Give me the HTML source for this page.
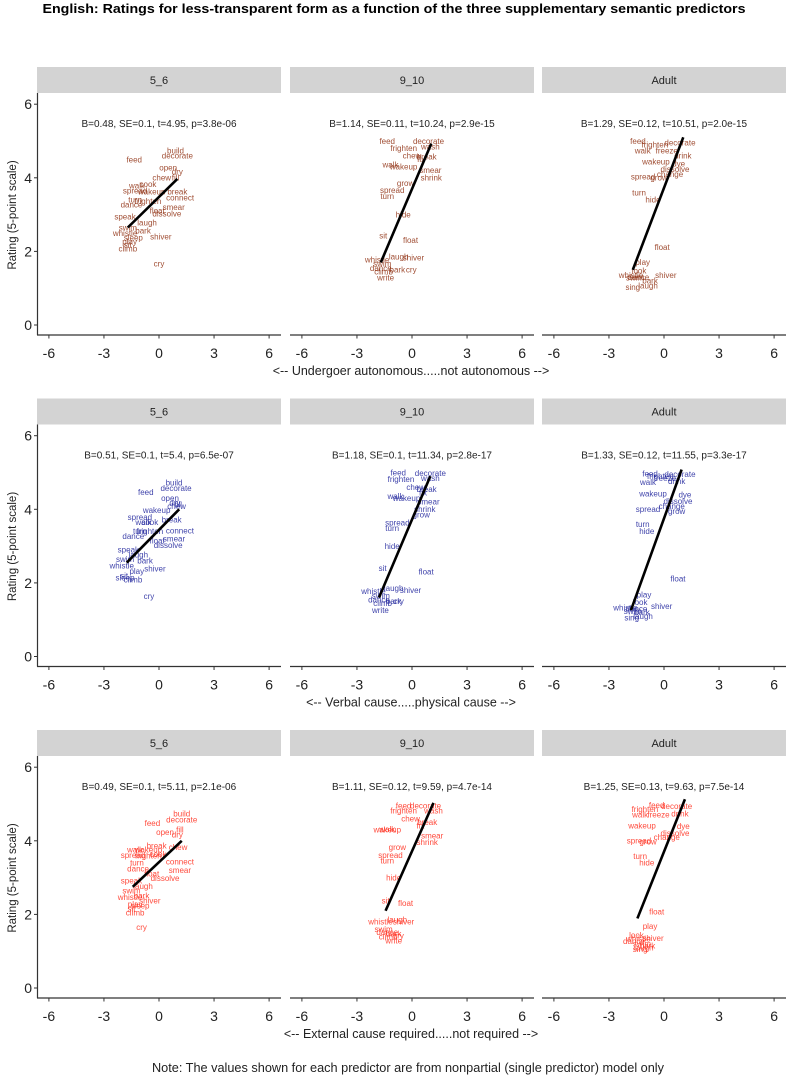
<!DOCTYPE html>
<html><head><meta charset="utf-8">
<style>
html,body{margin:0;padding:0;background:#fff;}
svg{display:block;font-family:"Liberation Sans",sans-serif;}
</style></head>
<body>
<svg id="chart" width="787" height="1078" viewBox="0 0 787 1078" xmlns="http://www.w3.org/2000/svg">
<text x="394" y="13" text-anchor="middle" font-size="13" font-weight="bold" fill="#000" textLength="703" lengthAdjust="spacingAndGlyphs">English: Ratings for less-transparent form as a function of the three supplementary semantic predictors</text>
<text x="408" y="1072" text-anchor="middle" font-size="12.5" fill="#222" textLength="512" lengthAdjust="spacingAndGlyphs">Note: The values shown for each predictor are from nonpartial (single predictor) model only</text>
</svg>
<script>
// ---- data ----
const facets = ["5_6","9_10","Adult"];
const predictors = ["<-- Undergoer autonomous.....not autonomous -->","<-- Verbal cause.....physical cause -->","<-- External cause required.....not required -->"];
const xTicks = [-6,-3,0,3,6];
const yTicks = [0,2,4,6];
const rowColors = ["#8f2f10","#1a1e9a","#ff2a1a"];
const stats = [
 ["B=0.48, SE=0.1, t=4.95, p=3.8e-06","B=1.14, SE=0.11, t=10.24, p=2.9e-15","B=1.29, SE=0.12, t=10.51, p=2.0e-15"],
 ["B=0.51, SE=0.1, t=5.4, p=6.5e-07","B=1.18, SE=0.1, t=11.34, p=2.8e-17","B=1.33, SE=0.12, t=11.55, p=3.3e-17"],
 ["B=0.49, SE=0.1, t=5.11, p=2.1e-06","B=1.11, SE=0.12, t=9.59, p=4.7e-14","B=1.25, SE=0.13, t=9.63, p=7.5e-14"]
];
const w56 = ["build","decorate","feed","open","dry","chew","fill","cook","walk","spread","wakeup","break","connect","turn","frighten","dance","smear","float","dissolve","speak","laugh","swim","bark","whistle","shiver","sleep","play","sit","climb","cry"];
const w910 = ["feed","decorate","frighten","wash","chew","break","fix","walk","wakeup","smear","shrink","grow","spread","turn","hide","sit","float","laugh","shiver","whistle","swim","dance","bark","cry","climb","write"];
const wAdult = ["feed","frighten","decorate","walk","freeze","drink","wakeup","dye","dissolve","change","spread","grow","turn","hide","float","play","look","shiver","swim","dance","bark","laugh","sing","whistle"];

const r1c1X = [0.9,1.0,-1.35,0.5,1.0,0.15,0.9,-0.6,-1.2,-1.3,-0.4,1.0,1.15,-1.3,-0.6,-1.5,0.8,-0.1,0.43,-1.85,-0.65,-1.7,-0.87,-1.85,0.1,-1.4,-1.6,-1.7,-1.7,0.0];
const r1c1Y = [4.73,4.6,4.49,4.27,4.17,4.0,4.0,3.83,3.78,3.65,3.62,3.62,3.46,3.4,3.37,3.27,3.2,3.1,3.02,2.94,2.78,2.64,2.56,2.5,2.4,2.37,2.26,2.18,2.07,1.66];
const r1c2X = [-1.35,0.9,-0.45,1.0,0,0.8,0.5,-1.17,-0.46,1.0,1.05,-0.35,-1.08,-1.35,-0.48,-1.57,-0.08,-0.73,0.08,-1.9,-1.62,-1.7,-0.8,-0.04,-1.55,-1.44];
const r1c2Y = [4.99,4.99,4.8,4.84,4.6,4.57,4.5,4.35,4.3,4.2,4.0,3.86,3.66,3.5,3.0,2.42,2.31,1.86,1.83,1.77,1.66,1.55,1.5,1.5,1.45,1.28];
const r1c3X = [-1.42,-0.5,0.87,-1.16,0.15,1.03,-0.44,0.8,0.6,0.33,-1.14,-0.27,-1.36,-0.6,-0.1,-1.16,-1.36,0.1,-1.58,-1.4,-0.76,-0.87,-1.7,-1.8];
const r1c3Y = [4.99,4.9,4.96,4.73,4.74,4.6,4.44,4.38,4.24,4.1,4.03,4.0,3.6,3.4,2.12,1.7,1.47,1.36,1.28,1.3,1.2,1.07,1.03,1.35];

const r2c1X = [0.82,0.93,-0.72,0.6,0.87,0.96,1.05,-0.5,-0.85,-1.04,-0.13,0.69,1.14,-1.04,-0.5,-1.4,0.82,-0.1,0.5,-1.67,-1.13,-1.85,-0.76,-2.03,-0.22,-1.85,-1.21,-1.9,-1.42,-0.55];
const r2c1Y = [4.72,4.58,4.47,4.3,4.18,4.08,4.13,3.65,3.65,3.78,3.98,3.72,3.42,3.4,3.4,3.27,3.2,3.15,3.02,2.9,2.77,2.65,2.6,2.47,2.39,2.14,2.32,2.2,2.09,1.64];
const r2c2X = [-0.75,1.0,-0.6,1.0,0.2,0.8,0.6,-0.9,-0.3,0.9,0.7,0.5,-0.8,-1.08,-1.08,-1.6,0.77,-1.0,-0.08,-2.1,-1.7,-1.8,-1.0,-0.73,-1.6,-1.72];
const r2c2Y = [5.0,4.98,4.82,4.85,4.6,4.55,4.45,4.35,4.3,4.2,4.0,3.85,3.64,3.48,3.0,2.4,2.3,1.85,1.8,1.78,1.65,1.55,1.5,1.5,1.45,1.26];
const r2c3X = [-0.76,-0.2,0.87,-0.87,0.05,0.69,-0.6,1.14,0.76,0.42,-0.87,0.69,-1.16,-0.94,0.76,-1.09,-1.3,-0.13,-1.7,-1.5,-1.2,-1.14,-1.76,-2.1];
const r2c3Y = [4.97,4.9,4.95,4.73,4.85,4.76,4.43,4.4,4.22,4.08,4.0,3.95,3.59,3.4,2.12,1.68,1.48,1.37,1.23,1.3,1.2,1.1,1.05,1.33];

const r3c1X = [1.24,1.24,-0.36,0.33,1.0,1.04,1.14,-0.05,-1.3,-1.42,-0.58,-0.13,1.14,-1.2,-0.58,-1.14,1.14,-0.4,0.33,-1.5,-0.87,-1.5,-0.95,-1.58,-0.5,-1.04,-1.3,-1.5,-1.3,-0.95];
const r3c1Y = [4.73,4.57,4.48,4.24,4.17,3.83,4.3,3.64,3.76,3.61,3.76,3.87,3.43,3.41,3.6,3.24,3.2,3.1,2.99,2.92,2.77,2.64,2.51,2.47,2.37,2.24,2.28,2.15,2.04,1.65];
const r3c2X = [-0.46,0.74,-0.46,1.17,-0.08,0.83,0.46,-1.35,-1.35,1.1,0.83,-0.8,-1.17,-1.35,-1.0,-1.44,-0.35,-0.8,-0.46,-1.72,-1.55,-1.35,-1.0,-0.73,-1.3,-1.0];
const r3c2Y = [4.95,4.95,4.82,4.82,4.6,4.5,4.41,4.32,4.3,4.14,3.96,3.83,3.61,3.46,3.0,2.37,2.31,1.85,1.8,1.8,1.6,1.52,1.47,1.42,1.39,1.29];
const r3c3X = [-0.4,-1.04,0.69,-1.3,-0.3,0.87,-1.2,1.05,0.6,0.15,-1.36,-0.87,-1.3,-0.94,-0.4,-0.76,-1.5,-0.6,-1.2,-1.64,-0.9,-1.1,-1.3,-1.4];
const r3c3Y = [4.97,4.86,4.94,4.71,4.71,4.73,4.41,4.39,4.21,4.1,4.0,3.97,3.58,3.4,2.08,1.68,1.44,1.35,1.2,1.27,1.15,1.1,1.05,1.34];

// fitted line endpoints [x0,x1] and [y0,y1]
const fitX = [[-1.7,1.0],[-1.7,1.05],[-1.7,1.05],[-1.76,1.1],[-1.8,1.0],[-1.8,0.96],[-1.43,1.24],[-1.44,1.17],[-1.45,1.14]];
const fitY = [[2.65,3.97],[1.7,4.93],[1.5,5.1],[2.55,4.0],[1.6,4.9],[1.26,5.08],[2.75,4.0],[2.1,5.03],[1.89,5.13]];

const panelWords = [w56,w910,wAdult];
const panelX = [r1c1X,r1c2X,r1c3X,r2c1X,r2c2X,r2c3X,r3c1X,r3c2X,r3c3X];
const panelY = [r1c1Y,r1c2Y,r1c3Y,r2c1Y,r2c2Y,r2c3Y,r3c1Y,r3c2Y,r3c3Y];

// ---- layout ----
const svg = document.getElementById('chart');
const NS = "http://www.w3.org/2000/svg";
const panelLeft = [37,290,542], panelW = 244;
const rowTop = [67,398.5,730];
function mk(tag, attrs){ const e=document.createElementNS(NS,tag); for(const k in attrs) e.setAttribute(k,attrs[k]); return e; }
function xScale(c,v){ return panelLeft[c] + 122 + v*18.35; }
function yScale(r,v){ return rowTop[r] + 258 - v*36.8; }

for(let r=0;r<3;r++){
  const top=rowTop[r];
  const axisY = top+268;
  const yl = mk('line',{x1:37.5,y1:top+26,x2:37.5,y2:axisY,stroke:'#333','stroke-width':1.2});
    svg.appendChild(yl);
  yTicks.forEach(t=>{
    const yy=yScale(r,t);
    const tk=mk('line',{x1:34,y1:yy,x2:37.5,y2:yy,stroke:'#333','stroke-width':1});
      svg.appendChild(tk);
    const tl=mk('text',{x:32,y:yy+5,'text-anchor':'end','font-size':14,fill:'#222'}); tl.textContent=t;
      svg.appendChild(tl);
  });
  const yt=mk('text',{x:0,y:0,transform:`translate(16,${top+148}) rotate(-90)`,'text-anchor':'middle','font-size':11.5,fill:'#222'});
  yt.textContent='Rating (5-point scale)';
    svg.appendChild(yt);
  const xt=mk('text',{x:411,y:top+308,'text-anchor':'middle','font-size':12.5,fill:'#222'}); xt.textContent=predictors[r];
    svg.appendChild(xt);

  for(let c=0;c<3;c++){
    const p=r*3+c, x0=panelLeft[c];
    const strip=mk('rect',{x:x0,y:top,width:panelW,height:26,fill:'#d3d3d3'});
      svg.appendChild(strip);
    const st=mk('text',{x:x0+panelW/2,y:top+17,'text-anchor':'middle','font-size':11,fill:'#222'}); st.textContent=facets[c];
      svg.appendChild(st);
    const xl=mk('line',{x1:x0,y1:axisY,x2:x0+panelW,y2:axisY,stroke:'#333','stroke-width':1.2});
      svg.appendChild(xl);
    xTicks.forEach(t=>{
      const xx=xScale(c,t);
      const tk=mk('line',{x1:xx,y1:axisY,x2:xx,y2:axisY+3.5,stroke:'#333','stroke-width':1});
        svg.appendChild(tk);
      const tl=mk('text',{x:xx,y:axisY+23,'text-anchor':'middle','font-size':14,fill:'#222'}); tl.textContent=t;
        svg.appendChild(tl);
    });
    const sl=mk('text',{x:x0+panelW/2,y:top+60,'text-anchor':'middle','font-size':10,fill:'#222'}); sl.textContent=stats[r][c];
      svg.appendChild(sl);
    const words=panelWords[c], xs=panelX[p], ys=panelY[p];
    for(let i=0;i<words.length;i++){
      const wt=mk('text',{x:xScale(c,xs[i]),y:yScale(r,ys[i])+2.8,'text-anchor':'middle','font-size':8,fill:rowColors[r],'fill-opacity':0.85});
      wt.textContent=words[i];
        svg.appendChild(wt);
    }
    const fl=mk('line',{x1:xScale(c,fitX[p][0]),y1:yScale(r,fitY[p][0]),x2:xScale(c,fitX[p][1]),y2:yScale(r,fitY[p][1]),stroke:'#000','stroke-width':2.6});
      svg.appendChild(fl);
  }
}
</script>
</body></html>
